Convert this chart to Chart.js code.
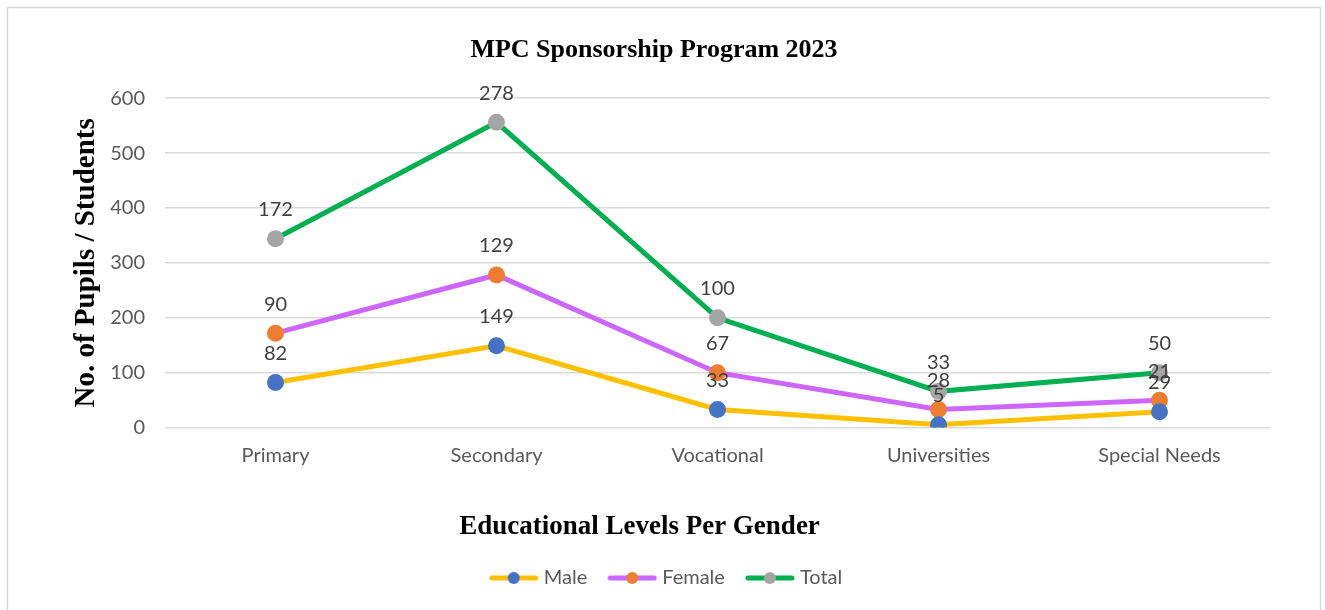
<!DOCTYPE html>
<html>
<head>
<meta charset="utf-8">
<script src="https://cdn.jsdelivr.net/npm/chart.js@4/dist/chart.umd.min.js"></script>
<style>
html,body{margin:0;padding:0;background:#fff;}
#wrap{width:1325px;height:610px;position:relative;}
</style>
</head>
<body>
<div id="wrap"><canvas id="c" width="1325" height="610"></canvas></div>
<script>
const categories = ["Primary", "Secondary", "Vocational", "Universities", "Special Needs"];
const maleValues = [82, 149, 33, 5, 29];
const femaleValues = [90, 129, 67, 28, 21];
const totalValues = [172, 278, 100, 33, 50];
const yTicks = [0, 100, 200, 300, 400, 500, 600];
const xTitleText = 'Educational Levels Per Gender';

const SANS = "Lato, 'Liberation Sans', sans-serif";
const SERIF = "'Liberation Serif', 'DejaVu Serif', serif";

function legendIcon(lineColor, dotColor) {
  const c = document.createElement('canvas');
  c.width = 50; c.height = 14;
  const x = c.getContext('2d');
  x.strokeStyle = lineColor; x.lineWidth = 5; x.lineCap = 'round';
  x.beginPath(); x.moveTo(3, 7); x.lineTo(47, 7); x.stroke();
  x.fillStyle = dotColor;
  x.beginPath(); x.arc(25, 7, 6, 0, Math.PI * 2); x.fill();
  return c;
}

const series = [
  { label: 'Male', data: maleValues, line: '#FFC000', dot: '#4472C4' },
  { label: 'Female', data: femaleValues, line: '#CC66FF', dot: '#ED7D31' },
  { label: 'Total', data: totalValues, line: '#00B050', dot: '#A5A5A5' }
];

const borderPlugin = {
  id: 'outerBorder',
  beforeDraw(chart) {
    const ctx = chart.ctx;
    ctx.save();
    ctx.fillStyle = '#fff';
    ctx.fillRect(0, 0, chart.width, chart.height);
    ctx.strokeStyle = '#D9D9D9';
    ctx.lineWidth = 1.5;
    ctx.strokeRect(7.5, 7.5, 1313, 620);
    ctx.restore();
  }
};

const shiftPlugin = {
  id: 'shiftBlocks',
  afterLayout(chart) {
    if (chart.titleBlock) { chart.titleBlock.left += 14; chart.titleBlock.right += 14; }
    if (chart.legend) { chart.legend.left += 28; chart.legend.right += 28; }
  }
};

const xTitlePlugin = {
  id: 'xTitle',
  afterDraw(chart) {
    const s = chart.scales.x;
    const ctx = chart.ctx;
    ctx.save();
    ctx.font = "bold 27px " + SERIF;
    ctx.fillStyle = '#000';
    ctx.textAlign = 'center';
    ctx.textBaseline = 'middle';
    const y = s.bottom - 27 * 1.2 / 2;
    ctx.fillText(xTitleText, (chart.chartArea.left + chart.chartArea.right) / 2 - 78, y);
    ctx.restore();
  }
};

const labelPlugin = {
  id: 'valueLabels',
  afterDatasetsDraw(chart) {
    const ctx = chart.ctx;
    ctx.save();
    ctx.font = "20px " + SANS;
    ctx.fillStyle = '#404040';
    ctx.textAlign = 'center';
    ctx.textBaseline = 'middle';
    chart.data.datasets.forEach((ds, di) => {
      const meta = chart.getDatasetMeta(di);
      meta.data.forEach((pt, i) => {
        ctx.fillText(String(ds.data[i]), pt.x, pt.y - 29);
      });
    });
    ctx.restore();
  }
};

new Chart(document.getElementById('c'), {
  type: 'line',
  data: {
    labels: categories,
    datasets: series.map(s => ({
      label: s.label,
      data: s.data,
      borderColor: s.line,
      backgroundColor: s.dot,
      pointBackgroundColor: s.dot,
      pointBorderColor: s.dot,
      pointRadius: 6,
      pointHoverRadius: 6,
      borderWidth: 5,
      tension: 0,
      fill: false,
      pointStyle: 'circle'
    }))
  },
  options: {
    responsive: false,
    animation: false,
    layout: { padding: { left: 10, right: 55, top: 8, bottom: 12 } },
    plugins: {
      title: {
        display: true,
        text: 'MPC Sponsorship Program 2023',
        color: '#000',
        font: { family: SERIF, size: 26, weight: 'bold' },
        padding: { top: 27, bottom: 32 }
      },
      legend: {
        position: 'bottom',
        labels: {
          usePointStyle: true,
          pointStyleWidth: 40,
          color: '#595959',
          font: { family: SANS, size: 20 },
          padding: 25,
          generateLabels(chart) {
            return series.map((s, i) => ({
              text: s.label,
              fillStyle: s.dot,
              strokeStyle: s.dot,
              lineWidth: 0,
              pointStyle: legendIcon(s.line, s.dot),
              hidden: false,
              datasetIndex: i,
              fontColor: '#595959'
            }));
          }
        }
      },
      tooltip: { enabled: false }
    },
    scales: {
      x: {
        offset: true,
        grid: { display: false, drawTicks: false },
        border: { display: false },
        ticks: { color: '#595959', font: { family: SANS, size: 20 }, padding: 16 },
        title: {
          display: true,
          text: xTitleText,
          color: 'rgba(0,0,0,0)',
          font: { family: SERIF, size: 27, weight: 'bold' },
          padding: { top: 27, bottom: 0 }
        }
      },
      y: {
        stacked: true,
        min: 0,
        max: 600,
        afterBuildTicks(scale) { scale.ticks = yTicks.map(v => ({ value: v })); },
        afterFit(scale) { scale.width = 155; },
        grid: { color: '#D9D9D9', lineWidth: 1.5, drawTicks: false },
        border: { display: false },
        ticks: { color: '#595959', font: { family: SANS, size: 20 }, padding: 20 },
        title: {
          display: true,
          text: 'No. of Pupils / Students',
          color: '#000',
          font: { family: SERIF, size: 29, weight: 'bold' },
          padding: { top: 59, bottom: 0 }
        }
      }
    }
  },
  plugins: [borderPlugin, shiftPlugin, labelPlugin, xTitlePlugin]
});
</script>
</body>
</html>
